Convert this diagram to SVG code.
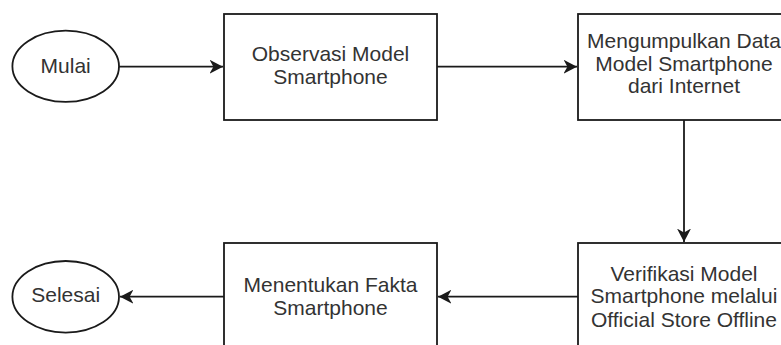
<svg xmlns="http://www.w3.org/2000/svg" width="781" height="345" viewBox="0 0 781 345">
  <defs>
    <style>
      .shape { fill: #ffffff; stroke: #1a1a1a; stroke-width: 1.8; }
      .edge { fill: none; stroke: #1a1a1a; stroke-width: 1.8; }
      .label { font-family: "Liberation Sans", Arial, sans-serif; font-size: 21px; fill: #333333; text-anchor: middle; }
    </style>
    <!-- classic notched arrowhead -->
    <marker id="arrow" markerUnits="userSpaceOnUse" markerWidth="14" markerHeight="14" viewBox="0 0 13 13" refX="12.5" refY="6.5" orient="auto">
      <path d="M0,0 L12.5,6.5 L0,13 L3.6,6.5 Z" fill="#1a1a1a"/>
    </marker>
  </defs>

  <rect x="0" y="0" width="781" height="345" fill="#ffffff"/>

  <g id="connectors">
    <path class="edge" d="M119,66.7 L223,66.7" marker-end="url(#arrow)"/>
    <path class="edge" d="M437,66.7 L577,66.7" marker-end="url(#arrow)"/>
    <path class="edge" d="M684,120 L684,242" marker-end="url(#arrow)"/>
    <path class="edge" d="M578,296.7 L438,296.7" marker-end="url(#arrow)"/>
    <path class="edge" d="M224,296.7 L120,296.7" marker-end="url(#arrow)"/>
  </g>

  <g id="mulai">
    <ellipse class="shape" cx="65.7" cy="66.3" rx="53.3" ry="35.6"/>
    <text class="label" x="65.7" y="73.3">Mulai</text>
  </g>

  <g id="observasi">
    <rect class="shape" x="224" y="14" width="213" height="106"/>
    <text class="label" x="330.5" y="60.7">Observasi Model</text>
    <text class="label" x="330.5" y="84">Smartphone</text>
  </g>

  <g id="mengumpulkan">
    <rect class="shape" x="578" y="14" width="212" height="106"/>
    <text class="label" x="684" y="48.3">Mengumpulkan Data</text>
    <text class="label" x="684" y="70.7">Model Smartphone</text>
    <text class="label" x="684" y="93.3">dari Internet</text>
  </g>

  <g id="verifikasi">
    <rect class="shape" x="578" y="243" width="212" height="106"/>
    <text class="label" x="684" y="280.7">Verifikasi Model</text>
    <text class="label" x="684" y="303.3">Smartphone melalui</text>
    <text class="label" x="684" y="326.7">Official Store Offline</text>
  </g>

  <g id="menentukan">
    <rect class="shape" x="224" y="243" width="213" height="106"/>
    <text class="label" x="330.5" y="292.3">Menentukan Fakta</text>
    <text class="label" x="330.5" y="315">Smartphone</text>
  </g>

  <g id="selesai">
    <ellipse class="shape" cx="65.7" cy="296.8" rx="53.3" ry="35.8"/>
    <text class="label" x="65.7" y="301.7">Selesai</text>
  </g>
</svg>
